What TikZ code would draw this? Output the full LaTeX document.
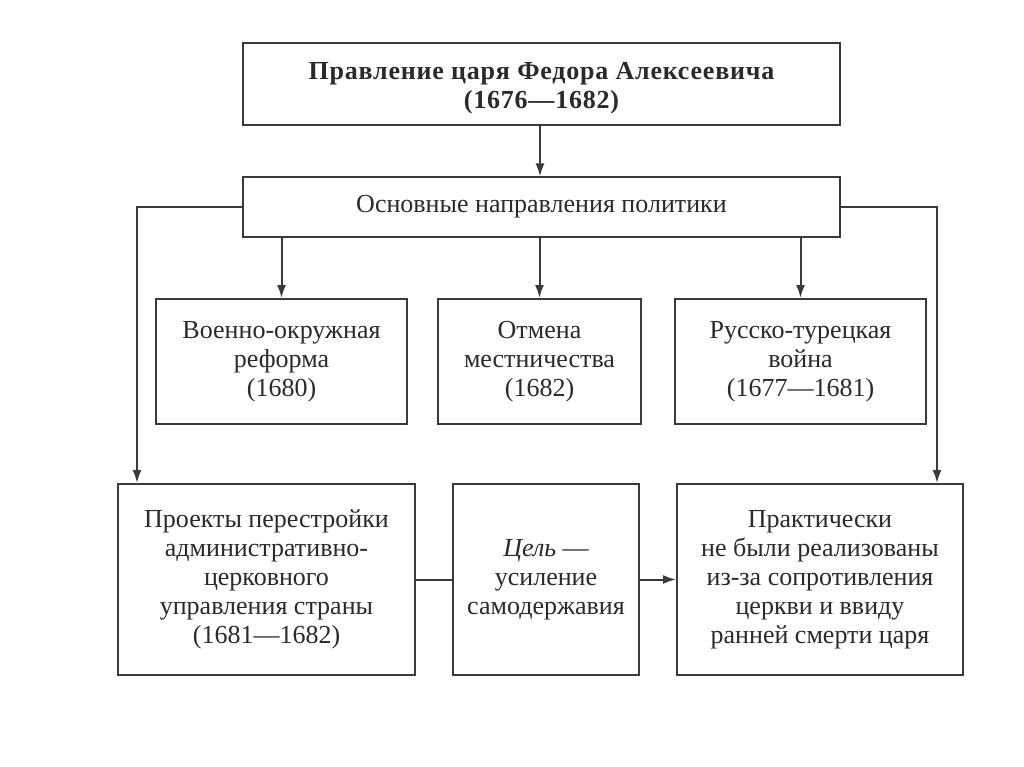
\documentclass[tikz,border=0pt]{standalone}
\usepackage{fontspec}
\setmainfont{Liberation Serif}
\newfontfamily\boldsp[LetterSpace=3]{Liberation Serif}
\usetikzlibrary{arrows.meta}
\definecolor{ink}{HTML}{2A2A2A}
\definecolor{edge}{HTML}{3A3A3A}
\tikzset{
  box/.style={draw=edge, line width=2pt, fill=white, align=center, text=ink, inner sep=0pt,
    font=\fontsize{26}{29}\selectfont},
  conn/.style={draw=edge, line width=2pt},
  arr/.style={conn, -{Latex[length=13pt,width=9pt]}}
}
\begin{document}
\begin{tikzpicture}[x=1pt,y=-1pt]
\useasboundingbox[fill=white] (0,0) rectangle (1024,767);
\node[box, minimum width=597pt, minimum height=82pt] (top) at (541.5,84) {};
\node[align=center, text=ink, inner sep=0pt, font=\boldsp\bfseries\fontsize{26}{29}\selectfont] (toptext) at (541.5,88)
  {Правление царя Федора Алексеевича\\(1676—1682)};
\node[box, minimum width=597pt, minimum height=59pt] (main) at (541.5,207)
  {Основные направления политики};
\node[box, minimum width=251pt, minimum height=125pt] (ra) at (281.5,361.5)
  {Военно-окружная\\реформа\\(1680)};
\node[box, minimum width=203pt, minimum height=125pt] (rb) at (539.5,361.5)
  {Отмена\\местничества\\(1682)};
\node[box, minimum width=251pt, minimum height=125pt] (rc) at (800.5,361.5)
  {Русско-турецкая\\война\\(1677—1681)};
\node[box, minimum width=297pt, minimum height=191pt] (ba) at (266.5,579.5)
  {Проекты перестройки\\административно-\\церковного\\управления страны\\(1681—1682)};
\node[box, minimum width=186pt, minimum height=191pt] (bb) at (546,579.5)
  {\textit{Цель} —\\усиление\\самодержавия};
\node[box, minimum width=286pt, minimum height=191pt] (bc) at (820,579.5)
  {Практически\\не были реализованы\\из-за сопротивления\\церкви и ввиду\\ранней смерти царя};
\coordinate (lc) at (137,207);
\coordinate (rcn) at (937,207);
\draw[arr] (top.south -| 540,0) -- (main.north -| 540,0);
\draw[arr] (main.south -| ra.north) -- (ra.north);
\draw[arr] (main.south -| rb.north) -- (rb.north);
\draw[arr] (main.south -| rc.north) -- (rc.north);
\draw[arr] (main.west) -- (lc) -- (lc |- ba.north);
\draw[arr] (main.east) -- (rcn) -- (rcn |- bc.north);
\draw[conn] (ba.east) -- (bb.west);
\draw[arr] (bb.east) -- (bc.west);
\end{tikzpicture}
\end{document}
